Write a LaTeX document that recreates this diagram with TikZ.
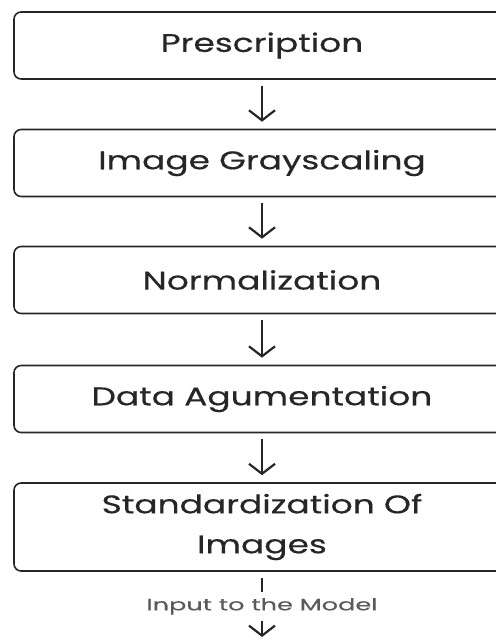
\documentclass[tikz,border=0pt]{standalone}
\usepackage{fontspec}
\setmainfont{Poppins}[FakeStretch=1.35,FakeBold=0.4]
\newfontfamily\notefont{Poppins}[FakeStretch=1.55,FakeBold=0.3]
\usepackage{xcolor}
\usetikzlibrary{arrows.meta,positioning}
\definecolor{Ink}{HTML}{262626}
\definecolor{Muted}{HTML}{5A5A5A}
\tikzset{
  stage/.style={rounded corners=2.5mm,draw=Ink,line width=1.6pt,fill=white,minimum width=496pt,minimum height=67pt,align=center,text=Ink,font=\fontsize{25.5}{40}\selectfont},
  arrow/.style={-{Straight Barb[length=10pt,width=26pt,line width=2.2pt]},line width=2.4pt,draw=Ink,shorten <=6pt,shorten >=7pt},
  note/.style={font=\notefont\fontsize{16.5}{18}\selectfont,text=Muted,fill=white,inner sep=6pt}
}
\begin{document}
\begin{tikzpicture}[x=1pt,y=-1pt]
  \useasboundingbox (0,0) rectangle (496,641);
  \clip (0,0) rectangle (496,641);
  \node[stage] (presc) at (262,45.5) {Prescription};
  \node[stage] (gray) at (262,163) {Image Grayscaling};
  \node[stage] (norm) at (262,280) {Normalization};
  \node[stage] (aug) at (262,399) {Data Agumentation};
  \node[stage,minimum height=88pt] (std) at (262,527) {Standardization Of\\Images};
  \coordinate (model) at (262,641);
  \draw[arrow] (presc) -- (gray);
  \draw[arrow] (gray) -- (norm);
  \draw[arrow] (norm) -- (aug);
  \draw[arrow] (aug) -- (std);
  \draw[arrow,shorten >=4pt] (std) -- (model) node[midway,note] {Input to the Model};
\end{tikzpicture}
\end{document}
